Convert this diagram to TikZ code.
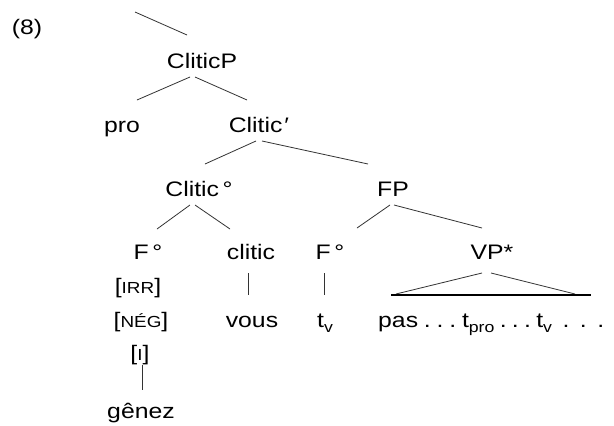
\documentclass[tikz,border=0pt]{standalone}
\usepackage{fontspec}
\setmainfont{Liberation Sans}[FakeStretch=1.18]
\newcommand\smc[1]{{\fontsize{16}{16}\selectfont #1}}
\newcommand\subs[1]{\raisebox{-0.28em}{\fontsize{15}{15}\selectfont #1}}
\newcommand\dotsgap[1]{\hspace{#1pt}.\hspace{#1pt}.\hspace{#1pt}.}
\begin{document}
\begin{tikzpicture}[x=1pt,y=-1pt,
  lbl/.style={anchor=base,inner sep=0pt,font=\fontsize{21}{25}\selectfont},
  edge/.style={line width=0.8pt,black!80},
  baseline/.style={line width=2pt,black}]
\fill[white] (0,0) rectangle (614,426);
\useasboundingbox (0,0) rectangle (614,426);
% nodes
\node[lbl] (ex) at (27,34) {(8)};
\coordinate (top) at (135,12);
\node[lbl] (cp) at (202,68) {CliticP};
\node[lbl] (pro) at (122,132) {pro};
\node[lbl] (cbar) at (259,132) {Clitic\kern2pt′};
\node[lbl] (cdeg) at (199,196) {Clitic\,°};
\node[lbl] (fp) at (393,196) {FP};
\node[lbl] (f1) at (148,259) {F\,°};
\node[lbl] (clitic) at (251,259) {clitic};
\node[lbl] (f2) at (330,259) {F\,°};
\node[lbl] (vp) at (492,259) {VP*};
\node[lbl] (irr) at (138,293) {[\smc{IRR}]};
\node[lbl] (neg) at (141,327) {[\smc{NÉG}]};
\node[lbl] (ifeat) at (140,360) {[\smc{I}]};
\node[lbl] (genez) at (141,418) {gênez};
\node[lbl] (vous) at (252,327) {vous};
\node[lbl] (tv) at (325,327) {t\subs{v}};
\node[lbl,anchor=base west] (pas) at (378,327) {pas\dotsgap{5.8}\hspace{5.8pt}t\subs{pro}\dotsgap{5.3}\hspace{5.3pt}t\subs{v}\dotsgap{10.5}};
% edges
\draw[edge] (top) -- ([shift={(-15,-33)}]cp.base);
\draw[edge] ([shift={(-12,9)}]cp.base) -- ([shift={(15,-32)}]pro.base);
\draw[edge] ([shift={(-7,9)}]cp.base) -- ([shift={(-12,-32)}]cbar.base);
\draw[edge] ([shift={(-3,9)}]cbar.base) -- ([shift={(6,-32)}]cdeg.base);
\draw[edge] ([shift={(3,9)}]cbar.base) -- ([shift={(-25,-32)}]fp.base);
\draw[edge] ([shift={(-9,9)}]cdeg.base) -- ([shift={(9,-30)}]f1.base);
\draw[edge] ([shift={(-4,9)}]cdeg.base) -- ([shift={(-21,-30)}]clitic.base);
\draw[edge] ([shift={(-3,9)}]fp.base) -- ([shift={(27,-31)}]f2.base);
\draw[edge] ([shift={(1,9)}]fp.base) -- ([shift={(-10,-31)}]vp.base);
\draw[edge] ([shift={(-10,14)}]vp.base) -- ([shift={(18,-33)}]pas.base west);
\draw[edge] ([shift={(-1,14)}]vp.base) -- ([shift={(197,-33)}]pas.base west);
\draw[baseline] ([shift={(13,-32)}]pas.base west) -- ([shift={(213,-32)}]pas.base west);
\draw[edge] ([shift={(-3,14)}]clitic.base) -- ([shift={(-4,-32)}]vous.base);
\draw[edge] ([shift={(-6,14)}]f2.base) -- ([shift={(-1,-32)}]tv.base);
\draw[edge] ([shift={(2,5)}]ifeat.base) -- ([shift={(1,-28)}]genez.base);
\end{tikzpicture}
\end{document}
